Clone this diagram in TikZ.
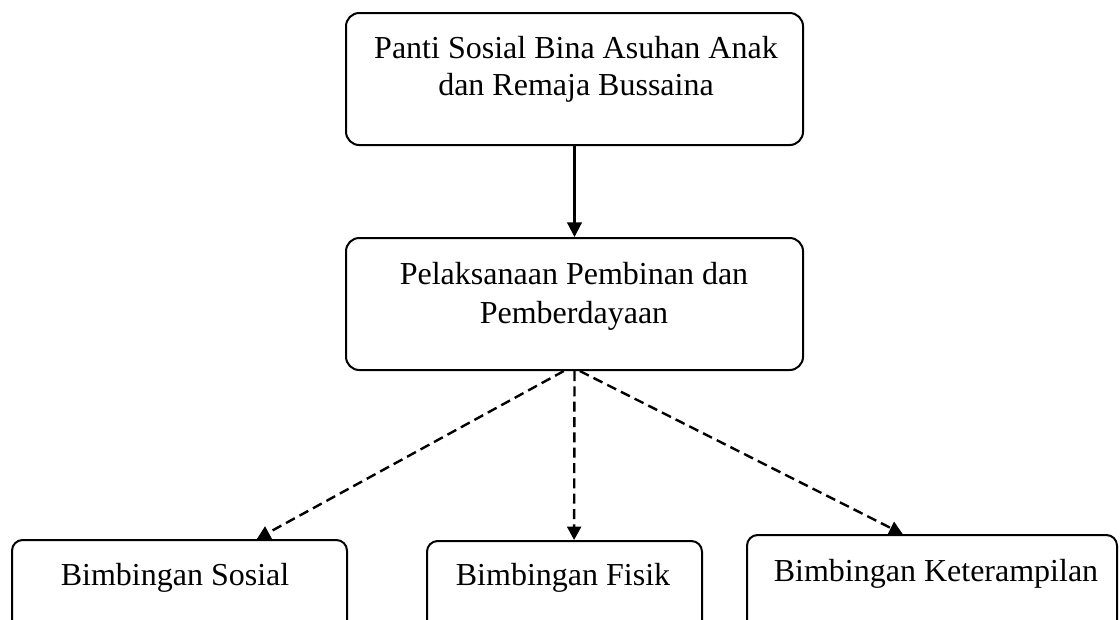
\documentclass[tikz,border=0pt]{standalone}
\usepackage{fontspec}
\setmainfont{Liberation Serif}
\usetikzlibrary{arrows, positioning, arrows.meta, fit, shapes}

\begin{document}
\begin{tikzpicture}[x=0.375pt, y=-0.375pt,
    box/.style={draw, line width=0.75pt, rounded corners=5pt, inner sep=0pt},
    txt/.style={align=center, font=\fontsize{12}{13.8}\selectfont},
    solidarrow/.style={arrows = {-Triangle[length=5.5pt, width=5.5pt]}, line width=0.8pt},
    dasharrow/.style={arrows = {-Triangle[length=5pt, width=5.2pt]}, line width=0.9pt, dash pattern=on 3.75pt off 2pt}]
    \clip (0,0) rectangle (1120,619);
    % Nodes
    \node[box, fit={(346,13) (803,145)}] (panti) {};
    \node[txt] (pantitxt) at (576,69) {Panti Sosial Bina Asuhan Anak\\dan Remaja Bussaina};
    \node[box, fit={(346,238) (803,370)}] (pembinaan) {};
    \node[txt, font=\fontsize{12}{14.6}\selectfont] (pembinaantxt) at (574,296) {Pelaksanaan Pembinan dan\\Pemberdayaan};
    \node[box, rounded corners=4pt, fit={(12,540) (347,680)}] (sosial) {};
    \node[txt, anchor=base] (sosialtxt) at (175,585) {Bimbingan Sosial};
    \node[box, rounded corners=4pt, fit={(427,541) (702,680)}] (fisik) {};
    \node[txt, anchor=base] (fisiktxt) at (563,585) {Bimbingan Fisik};
    \node[box, rounded corners=4pt, fit={(747,535) (1117,680)}] (terampil) {};
    \node[txt, anchor=base] (terampiltxt) at (936,581) {Bimbingan Keterampilan};

    % Connections
    \draw [solidarrow] (panti) -- (pembinaan);
    \draw [dasharrow] ([xshift=-4pt]pembinaan.south) -- ([xshift=29pt]sosial.north);
    \draw [dasharrow] (pembinaan.south) -- ([xshift=3.6pt]fisik.north);
    \draw [dasharrow] ([xshift=2pt]pembinaan.south) -- ([xshift=-11pt]terampil.north);
\end{tikzpicture}
\end{document}
